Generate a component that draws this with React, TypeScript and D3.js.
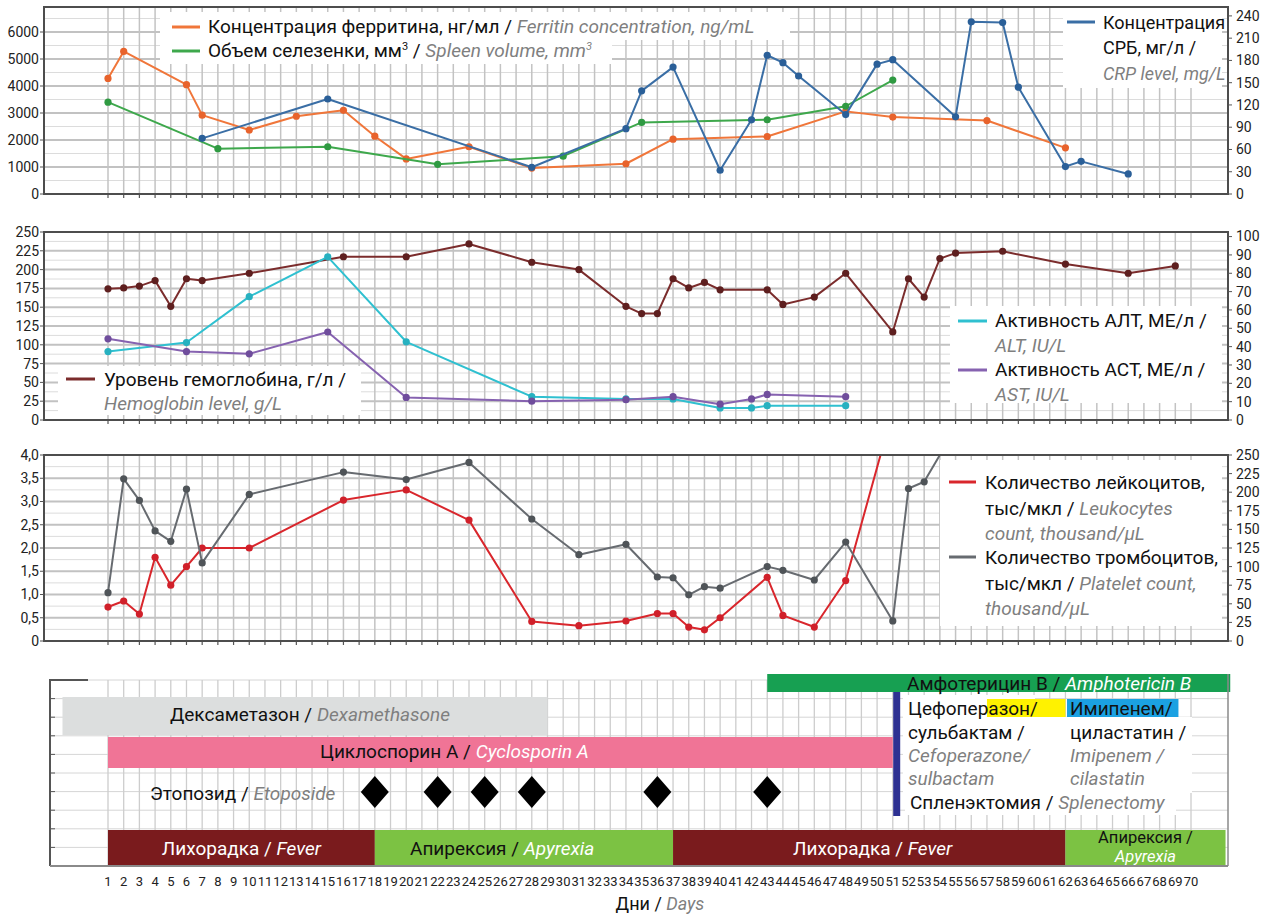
import React from 'react';
import * as d3 from 'd3';

// ---------------- DATA ----------------
const dayTicks: number[] = d3.range(1, 71);

const ferritinDay = [1, 2, 6, 7, 10, 13, 16, 18, 20, 24, 28, 34, 37, 43, 48, 51, 57, 62];
const ferritinVal = [4280, 5280, 4050, 2920, 2370, 2880, 3100, 2140, 1300, 1750, 960, 1120, 2030, 2130, 3060, 2850, 2720, 1710];

const spleenDay = [1, 8, 15, 22, 30, 35, 43, 48, 51];
const spleenVal = [3400, 1680, 1750, 1100, 1400, 2650, 2750, 3250, 4220];

const crpDay = [7, 15, 28, 34, 35, 37, 40, 42, 43, 44, 45, 48, 50, 51, 55, 56, 58, 59, 62, 63, 66];
const crpVal = [75, 128, 36, 88, 139, 171, 32, 100, 187, 177, 159, 107, 175, 181, 104, 232, 231, 144, 37, 44, 27];

const hbDay = [1, 2, 3, 4, 5, 6, 7, 10, 16, 20, 24, 28, 31, 34, 35, 36, 37, 38, 39, 40, 43, 44, 46, 48, 51, 52, 53, 54, 55, 58, 62, 66, 69];
const hbVal = [71.5, 72, 73, 76, 62, 77, 76, 80, 89, 89, 96, 86, 82, 62, 58, 58, 77, 72, 75, 71, 71, 63, 67, 80, 48, 77, 67, 88, 91, 92, 85, 80, 84];

const altDay = [1, 6, 10, 15, 20, 28, 34, 37, 40, 42, 43, 48];
const altVal = [91, 103, 164, 217, 104, 31, 28, 28, 16, 16, 19, 19];

const astDay = [1, 6, 10, 15, 20, 28, 34, 37, 40, 42, 43, 48];
const astVal = [108, 91, 88, 117, 30, 25, 27, 31, 21, 28, 34, 31];

const leukoDay = [1, 2, 3, 4, 5, 6, 7, 10, 16, 20, 24, 28, 31, 34, 36, 37, 38, 39, 40, 43, 44, 46, 48, 51];
const leukoVal = [0.73, 0.86, 0.58, 1.8, 1.2, 1.6, 2.0, 2.0, 3.03, 3.25, 2.6, 0.42, 0.33, 0.43, 0.59, 0.59, 0.3, 0.24, 0.5, 1.37, 0.55, 0.3, 1.3, 4.95];

const pltDay = [1, 2, 3, 4, 5, 6, 7, 10, 16, 20, 24, 28, 31, 34, 36, 37, 38, 39, 40, 43, 44, 46, 48, 51, 52, 53, 55];
const pltVal = [65, 218, 189, 148, 134, 204, 105, 197, 227, 217, 240, 164, 116, 130, 86, 85, 62, 73, 71, 100, 95, 82, 133, 27, 205, 214, 286];

const ferritinTicks = [0, 1000, 2000, 3000, 4000, 5000, 6000];
const crpTicks = [0, 30, 60, 90, 120, 150, 180, 210, 240];
const altTicks = [0, 25, 50, 75, 100, 125, 150, 175, 200, 225, 250];
const hbTicks = [0, 10, 20, 30, 40, 50, 60, 70, 80, 90, 100];
const leukoTicks = [0, 0.5, 1, 1.5, 2, 2.5, 3, 3.5, 4];
const pltTicks = [0, 25, 50, 75, 100, 125, 150, 175, 200, 225, 250];

// Treatment timeline (days)
const dexStart = -1.9, dexEnd = 29;
const cycloStart = 1, cycloEnd = 51;
const amphoStart = 43, amphoEnd = 72.5;
const etoposideDays = [18, 22, 25, 28, 36, 43];
const splenectomyDay = 51.25;
const cefoStart = 57, cefoEnd = 62;
const imipStart = 62.1, imipEnd = 69.2;
const phaseStart = [1, 18, 37, 62];
const phaseEnd = [18, 37, 62, 72.2];
const phaseType = ['fever', 'apyrexia', 'fever', 'apyrexia'];

// ---------------- LAYOUT ----------------
const FONT = "Roboto, 'Liberation Sans', Arial, sans-serif";
const FS = 19;
const L = 44, R = 1228;
const x = d3.scaleLinear().domain([1, 70]).range([108, 1191]);

const P1 = { top: 7, bottom: 194 };
const P2 = { top: 232, bottom: 420 };
const P3 = { top: 455, bottom: 641 };

const yFer = d3.scaleLinear().domain([0, 6926]).range([P1.bottom, P1.top]);
const yCrp = d3.scaleLinear().domain([0, 252]).range([P1.bottom, P1.top]);
const yAlt = d3.scaleLinear().domain([0, 250]).range([P2.bottom, P2.top]);
const yHb = d3.scaleLinear().domain([0, 102.5]).range([P2.bottom, P2.top]);
const yLeu = d3.scaleLinear().domain([0, 4]).range([P3.bottom, P3.top]);
const yPlt = d3.scaleLinear().domain([0, 250]).range([P3.bottom, P3.top]);

const C = {
  ferritin: '#f0763a', spleen: '#3ea84c', crp: '#3a6ea5',
  hb: '#7b2c2c', alt: '#2fc0d0', ast: '#8662b0',
  leuko: '#d9262c', plt: '#676b70',
};

function Series({ days, vals, y, color, dot, clip }: any) {
  const pts: [number, number][] = days.map((d: number, i: number) => [x(d), y(vals[i])]);
  const line = d3.line()(pts) || '';
  return (
    <g clipPath={clip ? `url(#${clip})` : undefined}>
      <path d={line} fill="none" stroke={color} strokeWidth={2} strokeLinejoin="round" />
      {pts.map((p, i) => (
        <circle key={i} cx={p[0]} cy={p[1]} r={3.6} fill={dot || color} />
      ))}
    </g>
  );
}

function Grid({ top, bottom, yMajor, yMinor }: any) {
  return (
    <g>
      {yMinor.map((v: number, i: number) => (
        <line key={'mn' + i} x1={L} x2={R} y1={v} y2={v} stroke="#dcdcdc" strokeWidth={1} />
      ))}
      {yMajor.map((v: number, i: number) => (
        <line key={'mj' + i} x1={L} x2={R} y1={v} y2={v} stroke="#c2c2c2" strokeWidth={2} />
      ))}
      {dayTicks.map((d) => (
        <line key={'v' + d} x1={x(d)} x2={x(d)} y1={top} y2={bottom} stroke="#c3c3c3" strokeWidth={1.5} />
      ))}
      {dayTicks.map((d) => (
        <line key={'t' + d} x1={x(d)} x2={x(d)} y1={bottom} y2={bottom + 4} stroke="#555" strokeWidth={1.2} />
      ))}
    </g>
  );
}

function Frame({ top, bottom }: any) {
  return <rect x={L} y={top} width={R - L} height={bottom - top} fill="none" stroke="#4d4d4d" strokeWidth={2} />;
}

function LeftAxis({ ticks, y, fmt }: any) {
  return (
    <g>
      {ticks.map((t: number) => (
        <g key={t}>
          <line x1={L - 4} x2={L} y1={y(t)} y2={y(t)} stroke="#555" strokeWidth={1} />
          <text x={L - 5} y={y(t)} dy="0.35em" textAnchor="end" fontSize={14} fontFamily={FONT} fill="#222">
            {fmt ? fmt(t) : t}
          </text>
        </g>
      ))}
    </g>
  );
}

function RightAxis({ ticks, y }: any) {
  return (
    <g>
      {ticks.map((t: number) => (
        <g key={t}>
          <line x1={R} x2={R + 4} y1={y(t)} y2={y(t)} stroke="#555" strokeWidth={1} />
          <text x={R + 8} y={y(t)} dy="0.35em" textAnchor="start" fontSize={14} fontFamily={FONT} fill="#222">
            {t}
          </text>
        </g>
      ))}
    </g>
  );
}

function Label({ x: tx, y: ty, ru, en, enColor = '#7f7f7f', size = FS, anchor = 'start', ruColor = '#111', enItalic = true }: any) {
  return (
    <text x={tx} y={ty} fontSize={size} fontFamily={FONT} textAnchor={anchor} fill={ruColor}>
      {ru && <tspan>{ru}</tspan>}
      {en && <tspan fill={enColor} fontStyle={enItalic ? 'italic' : 'normal'}>{en}</tspan>}
    </text>
  );
}

const commaFmt = (v: number) => (v === 0 ? '0' : d3.format('.1f')(v).replace('.', ','));

export default function App() {
  const p1Major = ferritinTicks.map((t) => yFer(t));
  const p1Minor = ferritinTicks.map((t) => yFer(t + 500));
  const p2Major = altTicks.map((t) => yAlt(t));
  const p2Minor = altTicks.slice(0, -1).map((t) => yAlt(t + 12.5));
  const p3Major = leukoTicks.map((t) => yLeu(t));
  const p3Minor = leukoTicks.slice(0, -1).map((t) => yLeu(t + 0.25));

  const tlTop = 680, tlBottom = 866;
  const tlRows = d3.range(0, 11).map((i) => tlTop + i * 18.6);
  const apy2x = (x(phaseStart[3]) + x(phaseEnd[3])) / 2;

  return (
    <svg width={1271} height={915} style={{ position: 'absolute', left: 0, top: 0, background: '#fff' }}>
      <defs>
        <clipPath id="c1"><rect x={L} y={P1.top} width={R - L} height={P1.bottom - P1.top} /></clipPath>
        <clipPath id="c2"><rect x={L} y={P2.top} width={R - L} height={P2.bottom - P2.top} /></clipPath>
        <clipPath id="c3"><rect x={L} y={P3.top} width={R - L} height={P3.bottom - P3.top} /></clipPath>
      </defs>
      <rect width={1271} height={915} fill="#fff" />

      {/* ---------- Panel 1 ---------- */}
      <Grid top={P1.top} bottom={P1.bottom} yMajor={p1Major} yMinor={p1Minor.filter((v) => v > P1.top)} />
      <Series days={ferritinDay} vals={ferritinVal} y={yFer} color={C.ferritin} dot="#e8632c" clip="c1" />
      <Series days={spleenDay} vals={spleenVal} y={yFer} color={C.spleen} dot="#2f9a42" clip="c1" />
      <Series days={crpDay} vals={crpVal} y={yCrp} color={C.crp} dot="#2a5f98" clip="c1" />
      <Frame top={P1.top} bottom={P1.bottom} />
      <LeftAxis ticks={ferritinTicks} y={yFer} />
      <RightAxis ticks={crpTicks} y={yCrp} />
      <rect x={160} y={12} width={630} height={28} fill="#fff" />
      <rect x={160} y={40} width={452} height={24} fill="#fff" />
      <line x1={172} x2={200} y1={27} y2={27} stroke={C.ferritin} strokeWidth={3} />
      <Label x={208} y={33} ru="Концентрация ферритина, нг/мл / " en="Ferritin concentration, ng/mL" />
      <line x1={172} x2={200} y1={51} y2={51} stroke={C.spleen} strokeWidth={3} />
      <text x={208} y={57} fontSize={FS} fontFamily={FONT} fill="#111">
        Объем селезенки, мм<tspan fontSize={11} dy={-7}>3</tspan>
        <tspan dy={7}> / </tspan>
        <tspan fill="#7f7f7f" fontStyle="italic">Spleen volume, mm</tspan>
        <tspan fill="#7f7f7f" fontStyle="italic" fontSize={11} dy={-7}>3</tspan>
      </text>
      <rect x={1063} y={8} width={159} height={80} fill="#fff" />
      <line x1={1067} x2={1095} y1={22} y2={22} stroke={C.crp} strokeWidth={3} />
      <Label x={1103} y={29} ru="Концентрация" size={18} />
      <Label x={1103} y={54} ru="СРБ, мг/л /" size={18} />
      <Label x={1103} y={80} en="CRP level, mg/L" size={18} />

      {/* ---------- Panel 2 ---------- */}
      <Grid top={P2.top} bottom={P2.bottom} yMajor={p2Major} yMinor={p2Minor} />
      <Series days={hbDay} vals={hbVal} y={yHb} color={C.hb} dot="#5e1f1f" clip="c2" />
      <Series days={altDay} vals={altVal} y={yAlt} color={C.alt} dot="#27b1c0" clip="c2" />
      <Series days={astDay} vals={astVal} y={yAlt} color={C.ast} dot="#6f4d9c" clip="c2" />
      <Frame top={P2.top} bottom={P2.bottom} />
      <LeftAxis ticks={altTicks} y={yAlt} />
      <RightAxis ticks={hbTicks} y={yHb} />
      <rect x={58} y={366} width={303} height={49} fill="#fff" />
      <line x1={66} x2={95} y1={379} y2={379} stroke={C.hb} strokeWidth={3} />
      <Label x={104} y={386} ru="Уровень гемоглобина, г/л /" />
      <Label x={104} y={410} en="Hemoglobin level, g/L" />
      <rect x={950} y={306} width={272} height={97} fill="#fff" />
      <line x1={958} x2={987} y1={321} y2={321} stroke={C.alt} strokeWidth={3} />
      <Label x={995} y={327} ru="Активность АЛТ, МЕ/л /" />
      <Label x={995} y={352} en="ALT, IU/L" />
      <line x1={958} x2={987} y1={370} y2={370} stroke={C.ast} strokeWidth={3} />
      <Label x={995} y={376} ru="Активность АСТ, МЕ/л /" />
      <Label x={995} y={401} en="AST, IU/L" />

      {/* ---------- Panel 3 ---------- */}
      <Grid top={P3.top} bottom={P3.bottom} yMajor={p3Major} yMinor={p3Minor} />
      <Series days={leukoDay} vals={leukoVal} y={yLeu} color={C.leuko} dot="#d0202a" clip="c3" />
      <Series days={pltDay} vals={pltVal} y={yPlt} color={C.plt} dot="#4f5458" clip="c3" />
      <Frame top={P3.top} bottom={P3.bottom} />
      <LeftAxis ticks={leukoTicks} y={yLeu} fmt={commaFmt} />
      <RightAxis ticks={pltTicks} y={yPlt} />
      <rect x={940} y={460} width={282} height={166} fill="#fff" />
      <line x1={949} x2={976} y1={482} y2={482} stroke={C.leuko} strokeWidth={3} />
      <Label x={985} y={489} ru="Количество лейкоцитов," />
      <Label x={985} y={515} ru="тыс/мкл / " en="Leukocytes" />
      <Label x={985} y={540} en="count, thousand/µL" />
      <line x1={949} x2={976} y1={557} y2={557} stroke={C.plt} strokeWidth={3} />
      <Label x={985} y={564} ru="Количество тромбоцитов," />
      <Label x={985} y={590} ru="тыс/мкл / " en="Platelet count," />
      <Label x={985} y={615} en="thousand/µL" />

      {/* ---------- Timeline ---------- */}
      <g>
        {tlRows.map((yy, i) => (
          <line key={'r' + i} x1={50} x2={R} y1={yy} y2={yy} stroke="#d6d6d6" strokeWidth={1} />
        ))}
        {dayTicks.map((d) => (
          <line key={'tv' + d} x1={x(d)} x2={x(d)} y1={tlTop} y2={tlBottom} stroke="#cdcdcd" strokeWidth={1.3} />
        ))}
        {tlRows.map((yy, i) => (
          <line key={'lt' + i} x1={50} x2={55} y1={yy} y2={yy} stroke="#555" strokeWidth={1} />
        ))}
        {/* bars */}
        <rect x={x(dexStart)} y={697} width={x(dexEnd) - x(dexStart)} height={38} fill="#dcdede" />
        <rect x={x(cycloStart)} y={737} width={x(cycloEnd) - x(cycloStart)} height={31} fill="#f07496" />
        <rect x={x(amphoStart)} y={674} width={x(amphoEnd) - x(amphoStart)} height={18} fill="#17a052" />
        {etoposideDays.map((d) => (
          <path key={'e' + d} d={`M${x(d)},776 L${x(d) + 14},792 L${x(d)},808 L${x(d) - 14},792 Z`} fill="#000" />
        ))}
        {phaseStart.map((s, i) => (
          <rect key={'ph' + i} x={x(s)} y={830} width={x(phaseEnd[i]) - x(s)} height={36}
            fill={phaseType[i] === 'fever' ? '#7a1b1d' : '#7cc243'} />
        ))}
        {/* white boxes behind antibiotic texts */}
        <rect x={903} y={695} width={132} height={98} fill="#fff" />
        <rect x={1035} y={717} width={157} height={76} fill="#fff" />
        <rect x={905} y={793} width={271} height={22} fill="#fff" />
        <rect x={x(cefoStart)} y={699} width={x(cefoEnd) - x(cefoStart)} height={18} fill="#fff200" />
        <rect x={x(imipStart)} y={699} width={x(imipEnd) - x(imipStart)} height={18} fill="#1ba1e2" />
        <rect x={x(splenectomyDay) - 3.5} y={692} width={7} height={124} fill="#2e3192" />

        {/* frame */}
        <line x1={50} x2={50} y1={tlTop} y2={tlBottom} stroke="#555" strokeWidth={2} />
        <line x1={49} x2={88} y1={tlTop} y2={tlTop} stroke="#555" strokeWidth={2} />
        <line x1={50} x2={R} y1={tlBottom} y2={tlBottom} stroke="#8a8a8a" strokeWidth={2} />
        <line x1={R} x2={R} y1={674} y2={tlBottom} stroke="#8a8a8a" strokeWidth={1.5} />

        {/* labels */}
        <Label x={170} y={721} ru="Дексаметазон / " en="Dexamethasone" />
        <Label x={320} y={758} ru="Циклоспорин А / " en="Cyclosporin A" enColor="#fff" />
        <Label x={150} y={800} ru="Этопозид / " en="Etoposide" />
        <Label x={907} y={690} ru="Амфотерицин В / " en="Amphotericin B" enColor="#fff" />
        <Label x={908} y={715} ru="Цефоперазон/" />
        <Label x={908} y={739} ru="сульбактам /" />
        <Label x={908} y={762} en="Cefoperazone/" />
        <Label x={908} y={785} en="sulbactam" />
        <Label x={1070} y={715} ru="Имипенем/" />
        <Label x={1070} y={739} ru="циластатин /" />
        <Label x={1070} y={762} en="Imipenem /" />
        <Label x={1070} y={785} en="cilastatin" />
        <Label x={910} y={809} ru="Спленэктомия / " en="Splenectomy" />
        <Label x={(x(phaseStart[0]) + x(phaseEnd[0])) / 2} y={855} anchor="middle" ru="Лихорадка / " en="Fever" ruColor="#fff" enColor="#fff" />
        <Label x={410} y={855} ru="Апирексия / " en="Apyrexia" enColor="#fff" />
        <Label x={793} y={855} ru="Лихорадка / " en="Fever" ruColor="#fff" enColor="#fff" />
        <Label x={apy2x} y={843} anchor="middle" ru="Апирексия /" size={16.5} />
        <Label x={apy2x} y={862} anchor="middle" en="Apyrexia" enColor="#fff" size={16.5} />
      </g>

      {/* x axis labels */}
      {dayTicks.map((d) => (
        <text key={'xl' + d} x={x(d)} y={886} textAnchor="middle" fontSize={13} fontFamily={FONT} fill="#222">{d}</text>
      ))}
      <Label x={660} y={910} anchor="middle" ru="Дни / " en="Days" size={18} />
    </svg>
  );
}
